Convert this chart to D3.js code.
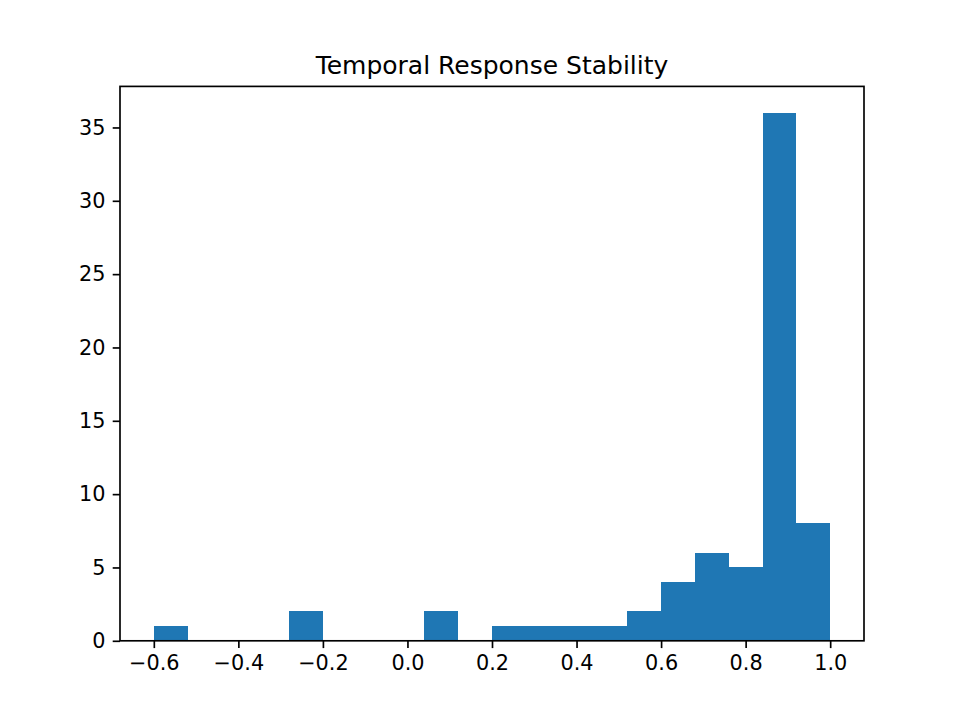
<!DOCTYPE html>
<html>
<head>
<meta charset="utf-8">
<script src="https://cdn.jsdelivr.net/npm/d3@7"></script>
<style>
  body { margin: 0; background: #fff; }
  svg { font-family: "DejaVu Sans", sans-serif; }
</style>
</head>
<body>
<div id="chart"></div>
<script>
// histogram bins (left edges) and counts
const binEdges = [-0.6, -0.52, -0.44, -0.36, -0.28, -0.2, -0.12, -0.04, 0.04, 0.12,
                  0.2, 0.28, 0.36, 0.44, 0.52, 0.6, 0.68, 0.76, 0.84, 0.92, 1.0];
const counts = [1, 0, 0, 0, 2, 0, 0, 0, 2, 0,
                1, 1, 1, 1, 2, 4, 6, 5, 36, 8];
const xTicks = [-0.6, -0.4, -0.2, 0.0, 0.2, 0.4, 0.6, 0.8, 1.0];
const yTicks = [0, 5, 10, 15, 20, 25, 30, 35];
const title = 'Temporal Response Stability';

const width = 960, height = 720;
const margin = {top: 86.4, right: 96, bottom: 79.2, left: 120};
const tick = 7.3, lw = 1.67;

const svg = d3.select('#chart').append('svg')
  .attr('width', width)
  .attr('height', height);

const x = d3.scaleLinear()
  .domain([-0.68, 1.08])
  .range([margin.left, width - margin.right]);
const y = d3.scaleLinear()
  .domain([0, 37.8])
  .range([height - margin.bottom, margin.top]);

const bins = counts.map((c, i) => ({x0: binEdges[i], x1: binEdges[i + 1], count: c}));

svg.append('g')
  .selectAll('rect')
  .data(bins.filter(d => d.count > 0))
  .join('rect')
  .attr('x', d => x(d.x0))
  .attr('width', d => x(d.x1) - x(d.x0))
  .attr('y', d => y(d.count))
  .attr('height', d => y(0) - y(d.count))
  .attr('fill', '#1f77b4')
  .attr('shape-rendering', 'crispEdges');

const fmt = d => d3.format('.1f')(d).replace('-', '\u2212');

const xAxis = svg.append('g')
  .attr('transform', `translate(0,${height - margin.bottom})`)
  .call(d3.axisBottom(x).tickValues(xTicks).tickFormat(fmt).tickSize(tick).tickPadding(tick));
const yAxis = svg.append('g')
  .attr('transform', `translate(${margin.left},0)`)
  .call(d3.axisLeft(y).tickValues(yTicks).tickFormat(d3.format('d')).tickSize(tick).tickPadding(tick));

[xAxis, yAxis].forEach(g => {
  g.select('.domain').remove();
  g.selectAll('line').attr('stroke', '#000').attr('stroke-width', lw);
  g.selectAll('text')
    .attr('fill', '#000')
    .style('font-family', '"DejaVu Sans", sans-serif')
    .style('font-size', '20.8px');
});

// axes frame
svg.append('rect')
  .attr('x', margin.left)
  .attr('y', margin.top)
  .attr('width', width - margin.left - margin.right)
  .attr('height', height - margin.top - margin.bottom)
  .attr('fill', 'none')
  .attr('stroke', '#000')
  .attr('stroke-width', lw);

svg.append('text')
  .attr('x', (margin.left + width - margin.right) / 2)
  .attr('y', margin.top - 12.5)
  .attr('text-anchor', 'middle')
  .style('font-size', '25px')
  .text(title);
</script>
</body>
</html>
